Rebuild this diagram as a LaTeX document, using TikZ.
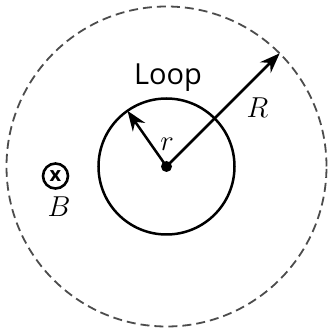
\documentclass[tikz,border=0pt]{standalone}
\usepackage{fontspec}
\setsansfont{Open Sans}
\usetikzlibrary{arrows.meta}

\begin{document}
\begin{tikzpicture}[x=0.5pt,y=0.5pt,
		vec/.style={-{Stealth[length=10pt,width=7.5pt]},line width=1.25pt},
		lbl/.style={anchor=base,font=\fontsize{14}{17}\selectfont}]
	\useasboundingbox (-166.5,-164.5) rectangle (160.5,166.5);
	\coordinate (O) at (0,0);
	\coordinate (rtip) at (125:68);
	\coordinate (Rtip) at (45:160);
	\draw[dash pattern=on 4.5pt off 2.5pt,line width=0.9pt,black!70] (O) circle (160);
	\draw[line width=1.25pt] (O) circle (68);
	\draw[vec] (O) -- (rtip);
	\draw[vec] (O) -- (Rtip);
	\fill (O) circle (5.5);
	\node[anchor=base,font=\sffamily\fontsize{14.5}{17}\selectfont] (loop) at (1.5,81.5) {Loop};
	\node[lbl] (rlabel) at (0.5,15.5) {$r$};
	\node[lbl] (Rlabel) at (91,48.5) {$R$};
	\node[circle,draw,line width=1.3pt,inner sep=0pt,minimum size=12.5pt,font=\sffamily\bfseries\fontsize{10}{10}\selectfont] (field) at (-111,-9.5) {x};
	\node[lbl] (Blabel) at (-107.5,-50.5) {$B$};
\end{tikzpicture}
\end{document}
